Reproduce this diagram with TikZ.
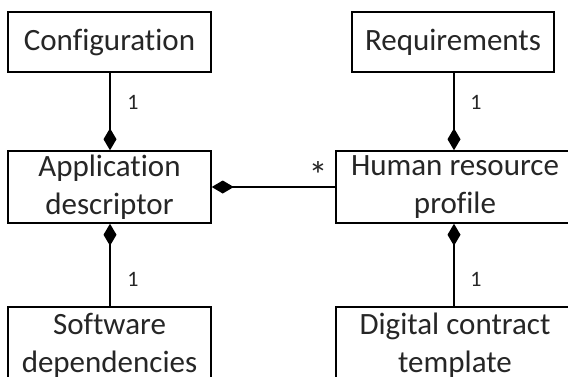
\documentclass[tikz,border=0pt]{standalone}
\usepackage{fontspec}
\setmainfont{Carlito}[Ligatures=NoCommon]
\usetikzlibrary{arrows.meta}
\tikzset{
  cls/.style={draw=black, line width=1.5pt, fill=white, text=black!85,
    font=\fontsize{31}{38}\selectfont, align=center, inner sep=0pt,
    minimum width=#1, anchor=center},
  cls/.default=203pt,
  assoc/.style={draw=black, line width=1.5pt},
  comp/.tip={Diamond[length=22pt,width=13pt]},
  mult/.style={font=\fontsize{22}{26}\selectfont, text=black!85, inner sep=0pt}
}
\begin{document}
\begin{tikzpicture}[x=1pt,y=-1pt]
  \useasboundingbox (0,0) rectangle (568,376);
  \clip (0,0) rectangle (568,376);

  % class boxes
  \node[cls, minimum height=60pt] (cfg) at (109.5,42) {Configuration};
  \node[cls=202pt, minimum height=60pt] (req) at (453,42) {Requirements};
  \node[cls, minimum height=72pt] (app) at (109.5,187) {Application\\descriptor};
  \node[cls=238pt, minimum height=72pt] (hr) at (455,187) {Human resource\\profile};
  \node[cls, minimum height=76pt] (sw) at (109.5,345) {Software\\dependencies};
  \node[cls=238pt, minimum height=76pt] (dc) at (455,345) {Digital contract\\template};

  % compositions
  \draw[assoc, -comp] (cfg.south -| 110,0) -- (app.north -| 110,0);
  \draw[assoc, -comp] (req.south -| 454,0) -- (hr.north -| 454,0);
  \draw[assoc, -comp] (hr.west) -- (app.east);
  \draw[assoc, comp-] (app.south -| 110,0) -- (sw.north -| 110,0);
  \draw[assoc, comp-] (hr.south -| 454,0) -- (dc.north -| 454,0);

  % multiplicities
  \node[mult] (m1) at (133,102) {1};
  \node[mult] (m2) at (476,102) {1};
  \node[mult, font=\fontsize{38}{38}\selectfont] (m3) at (318,175) {*};
  \node[mult] (m4) at (133,279) {1};
  \node[mult] (m5) at (476,279) {1};
\end{tikzpicture}
\end{document}
